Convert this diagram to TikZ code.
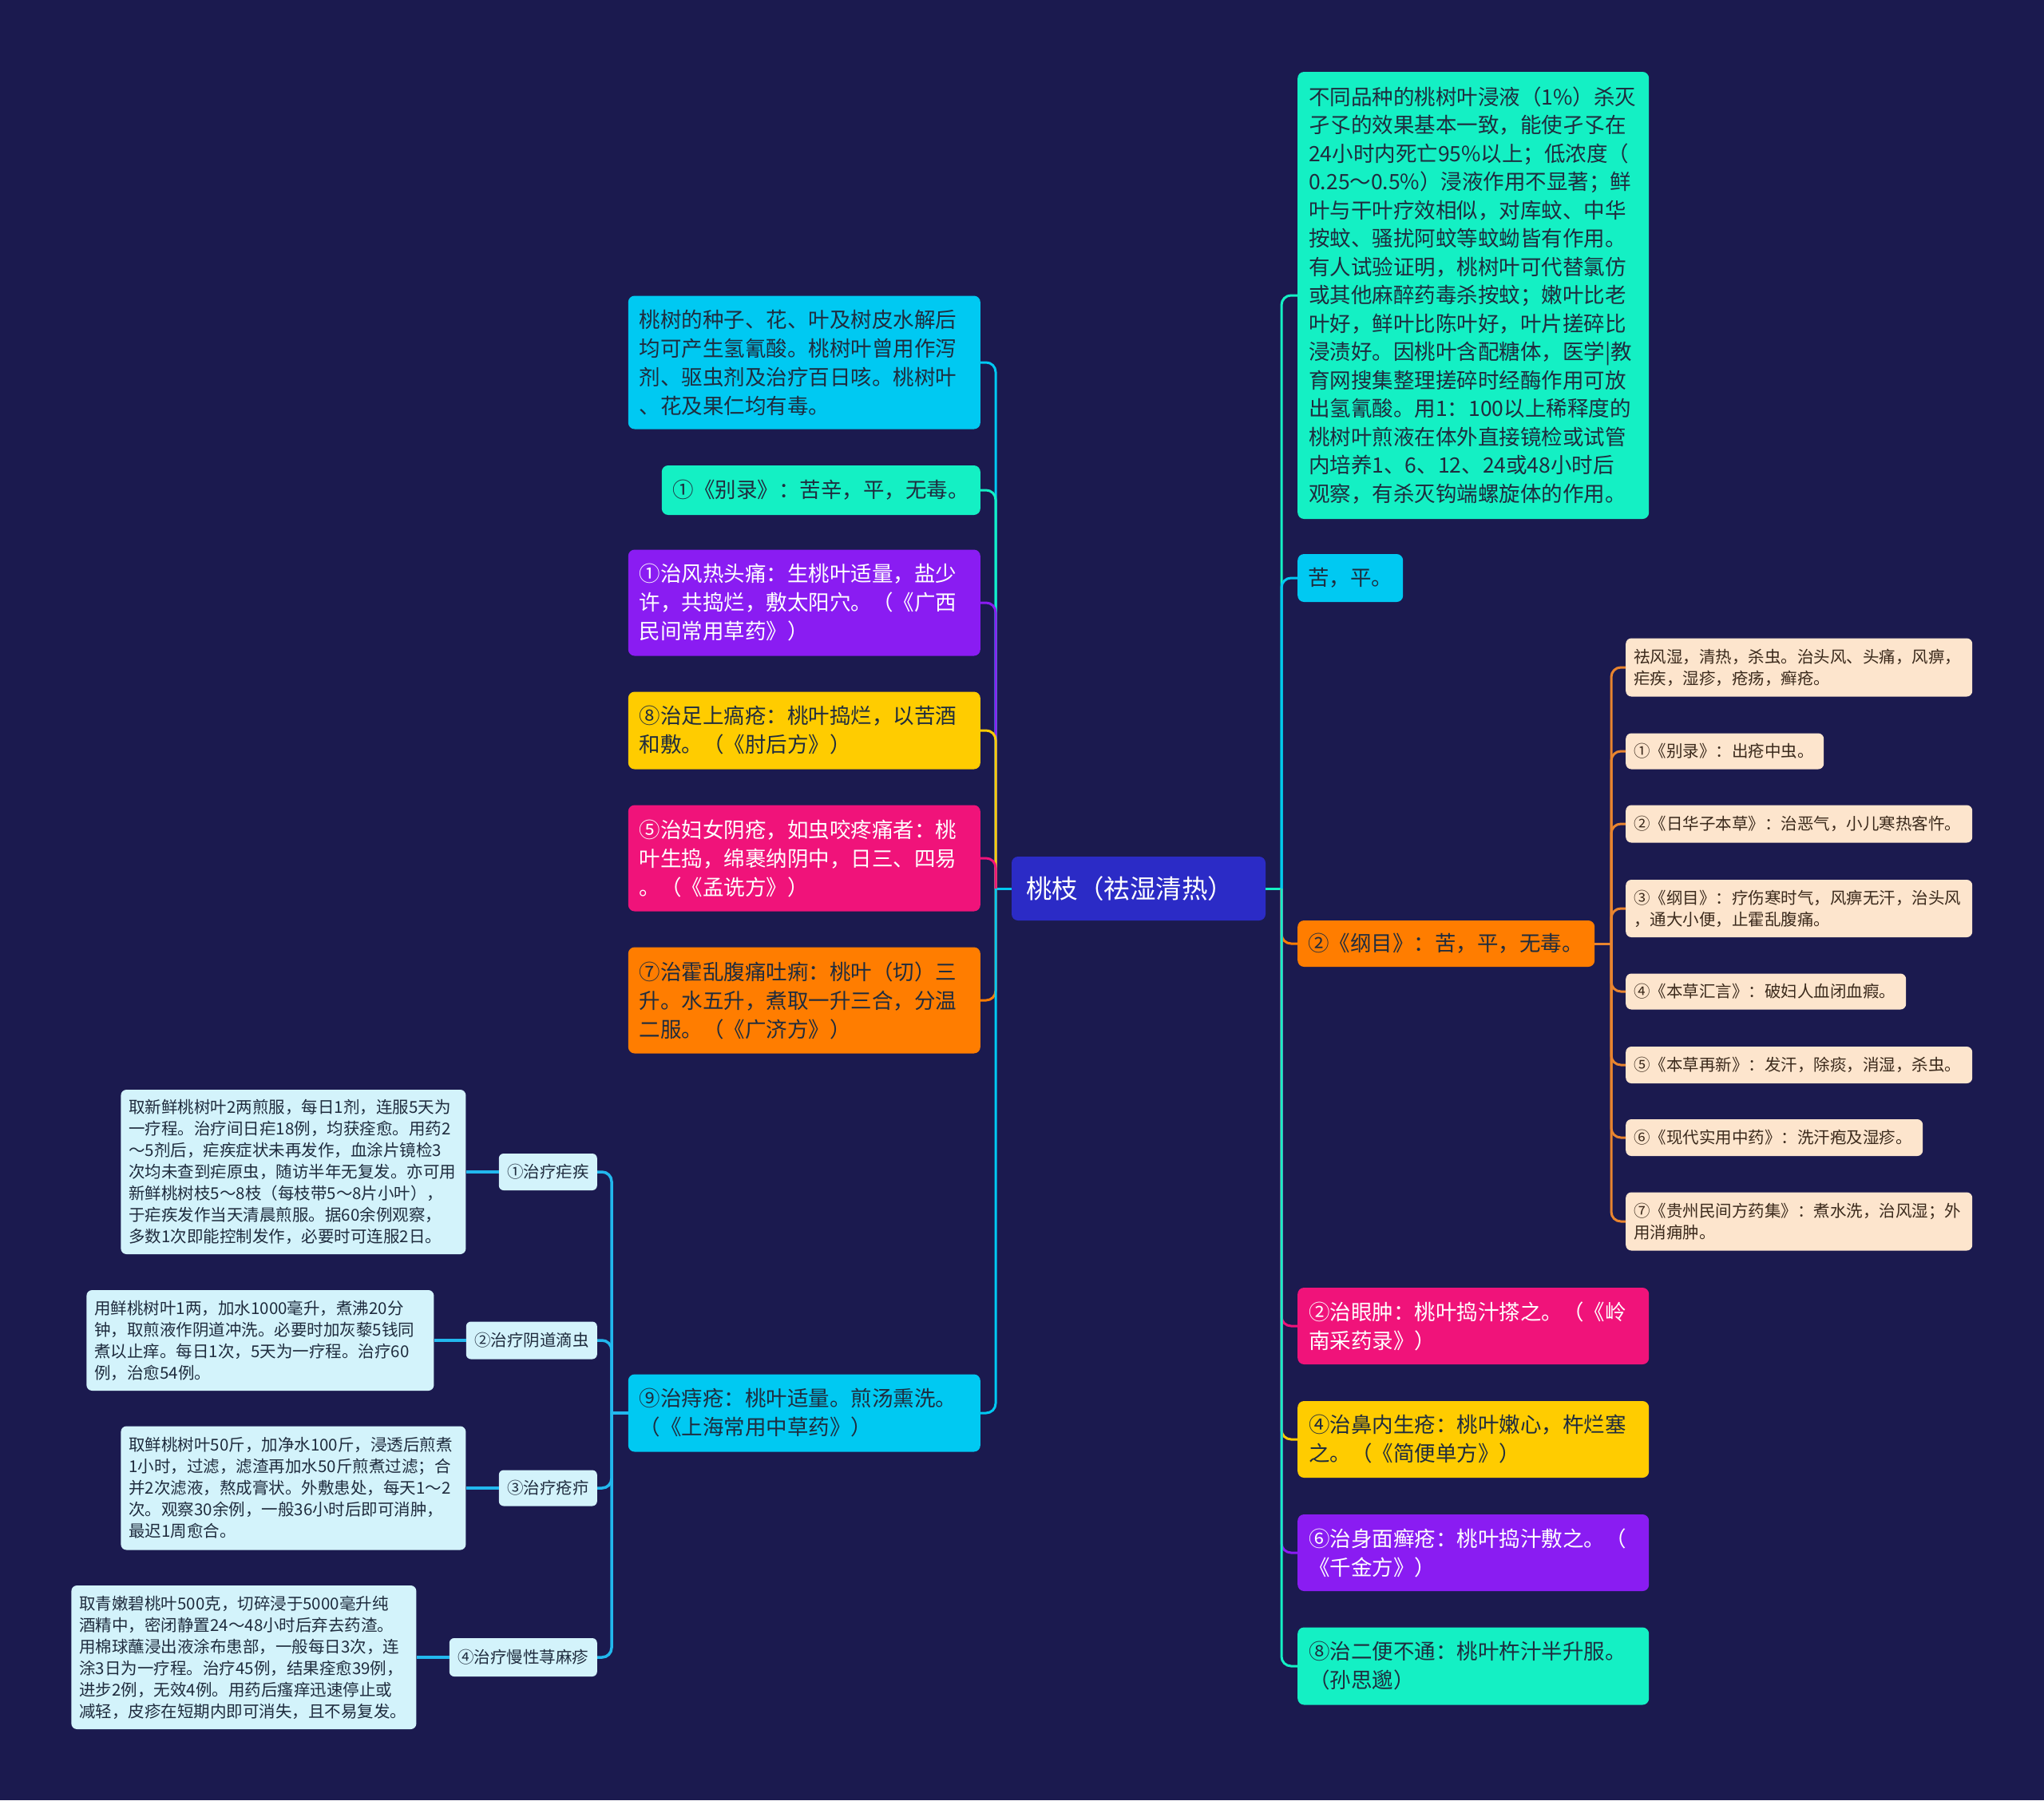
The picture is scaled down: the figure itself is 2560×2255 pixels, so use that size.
\documentclass[tikz,border=0pt]{standalone}
\usepackage{fontspec}
\usepackage{xcolor}
\usepackage{tikz}
\usetikzlibrary{positioning}
\newfontfamily\cjk{Noto Sans CJK SC}
\definecolor{bg}{HTML}{1B1A4F}
\definecolor{royal}{HTML}{2B2BC6}
\definecolor{skyblue}{HTML}{00C9F2}
\definecolor{mint}{HTML}{14F0C4}
\definecolor{grape}{HTML}{8A1CF2}
\definecolor{gold}{HTML}{FFCC00}
\definecolor{rose}{HTML}{F0137A}
\definecolor{tangerine}{HTML}{FF7D00}
\definecolor{peach}{HTML}{FDE5CD}
\definecolor{ice}{HTML}{D3F3FB}
\definecolor{ink}{HTML}{1F2C3E}
\definecolor{bark}{HTML}{3B2A1C}
\definecolor{wire}{HTML}{E8842F}
\definecolor{sky}{HTML}{22B8EE}
\newcommand{\rootfont}{\cjk\fontsize{32.5pt}{40pt}\selectfont}
\newcommand{\lvfont}{\cjk\fontsize{26.5pt}{36pt}\selectfont}
\newcommand{\densefont}{\cjk\fontsize{26.5pt}{35.5pt}\selectfont}
\newcommand{\leaffont}{\cjk\fontsize{20.5pt}{27pt}\selectfont}

\begin{document}
\begin{tikzpicture}[x=1pt, y=-1pt,
  root/.style={fill=royal, rounded corners=8pt, text=white, font=\rootfont,
    align=left, inner xsep=18pt, inner ysep=0pt, text width=282pt, minimum height=80pt},
  branch/.style={fill=#1, rounded corners=8pt, text=ink, font=\lvfont,
    align=left, inner xsep=14pt, inner ysep=0pt},
  herb/.style={fill=peach, rounded corners=7pt, text=bark, font=\leaffont,
    align=left, inner xsep=10pt, inner ysep=0pt},
  topic/.style={fill=ice, rounded corners=6pt, text=ink, font=\leaffont,
    align=center, inner xsep=10pt, inner ysep=0pt},
  leaf/.style={fill=ice, rounded corners=7pt, text=ink, font=\leaffont,
    align=left, inner xsep=10pt, inner ysep=0pt},
  link/.style={line width=3pt, rounded corners=12pt}
]
\useasboundingbox (0,0) rectangle (2560,2255);
\fill[bg] (0,0) rectangle (2560,2255);

\node[root] (root) at (1426,1113) {桃枝（祛湿清热）};

\node[branch=skyblue, anchor=east, text width=413pt, minimum height=167pt] (seed) at (1228,454)
  {桃树的种子、花、叶及树皮水解后\\均可产生氢氰酸。桃树叶曾用作泻\\剂、驱虫剂及治疗百日咳。桃树叶\\、花及果仁均有毒。};
\node[branch=mint, anchor=east, text width=371pt, minimum height=62pt] (bielu) at (1228,614)
  {①《别录》：苦辛，平，无毒。};
\node[branch=grape, text=white, anchor=east, text width=413pt, minimum height=133pt] (fengre) at (1228,755)
  {①治风热头痛：生桃叶适量，盐少\\许，共捣烂，敷太阳穴。（《广西\\民间常用草药》）};
\node[branch=gold, anchor=east, text width=413pt, minimum height=97pt] (zushang) at (1228,915)
  {⑧治足上瘑疮：桃叶捣烂，以苦酒\\和敷。（《肘后方》）};
\node[branch=rose, text=white, anchor=east, text width=413pt, minimum height=133pt] (yinchuang) at (1228,1075)
  {⑤治妇女阴疮，如虫咬疼痛者：桃\\叶生捣，绵裹纳阴中，日三、四易\\。（《孟诜方》）};
\node[branch=tangerine, anchor=east, text width=413pt, minimum height=133pt] (huoluan) at (1228,1253)
  {⑦治霍乱腹痛吐痢：桃叶（切）三\\升。水五升，煮取一升三合，分温\\二服。（《广济方》）};
\node[branch=skyblue, anchor=east, text width=413pt, minimum height=97pt] (zhichuang) at (1228,1770)
  {⑨治痔疮：桃叶适量。煎汤熏洗。\\（《上海常用中草药》）};

\node[branch=mint, font=\densefont, anchor=west, text width=412pt, minimum height=560pt] (wenyou) at (1625,370)
  {不同品种的桃树叶浸液（1\%）杀灭\\孑孓的效果基本一致，能使孑孓在\\24小时内死亡95\%以上；低浓度（\\0.25～0.5\%）浸液作用不显著；鲜\\叶与干叶疗效相似，对库蚊、中华\\按蚊、骚扰阿蚊等蚊蚴皆有作用。\\有人试验证明，桃树叶可代替氯仿\\或其他麻醉药毒杀按蚊；嫩叶比老\\叶好，鲜叶比陈叶好，叶片搓碎比\\浸渍好。因桃叶含配糖体，医学|教\\育网搜集整理搓碎时经酶作用可放\\出氢氰酸。用1：100以上稀释度的\\桃树叶煎液在体外直接镜检或试管\\内培养1、6、12、24或48小时后\\观察，有杀灭钩端螺旋体的作用。};
\node[branch=skyblue, inner xsep=13pt, anchor=west, text width=106pt, minimum height=60pt] (kuping) at (1625,724)
  {苦，平。};
\node[branch=tangerine, inner xsep=13pt, anchor=west, text width=346pt, minimum height=58pt] (gangmu) at (1625,1182)
  {②《纲目》：苦，平，无毒。};
\node[branch=rose, text=white, anchor=west, text width=412pt, minimum height=96pt] (yanzhong) at (1625,1661)
  {②治眼肿：桃叶捣汁搽之。（《岭\\南采药录》）};
\node[branch=gold, anchor=west, text width=412pt, minimum height=96pt] (binei) at (1625,1803)
  {④治鼻内生疮：桃叶嫩心，杵烂塞\\之。（《简便单方》）};
\node[branch=grape, text=white, anchor=west, text width=412pt, minimum height=96pt] (shenmian) at (1625,1945)
  {⑥治身面癣疮：桃叶捣汁敷之。（\\《千金方》）};
\node[branch=mint, anchor=west, text width=412pt, minimum height=97pt] (erbian) at (1625,2087)
  {⑧治二便不通：桃叶杵汁半升服。\\（孙思邈）};

\node[herb, anchor=west, text width=414pt, minimum height=73pt] (gong) at (2036,836)
  {祛风湿，清热，杀虫。治头风、头痛，风痹，\\疟疾，湿疹，疮疡，癣疮。};
\node[herb, anchor=west, text width=228pt, minimum height=45pt] (chong) at (2036,941)
  {①《别录》：出疮中虫。};
\node[herb, anchor=west, text width=414pt, minimum height=47pt] (rihua) at (2036,1032)
  {②《日华子本草》：治恶气，小儿寒热客忤。};
\node[herb, anchor=west, text width=414pt, minimum height=72pt] (shangh) at (2036,1138)
  {③《纲目》：疗伤寒时气，风痹无汗，治头风\\，通大小便，止霍乱腹痛。};
\node[herb, anchor=west, text width=331pt, minimum height=45pt] (huiyan) at (2036,1242)
  {④《本草汇言》：破妇人血闭血瘕。};
\node[herb, anchor=west, text width=414pt, minimum height=46pt] (zaixin) at (2036,1334)
  {⑤《本草再新》：发汗，除痰，消湿，杀虫。};
\node[herb, anchor=west, text width=352pt, minimum height=46pt] (xiandai) at (2036,1425)
  {⑥《现代实用中药》：洗汗疱及湿疹。};
\node[herb, anchor=west, text width=414pt, minimum height=73pt] (guizhou) at (2036,1530)
  {⑦《贵州民间方药集》：煮水洗，治风湿；外\\用消痈肿。};

\node[topic, anchor=east, text width=103pt, minimum height=46pt] (nueji) at (748,1468) {①治疗疟疾};
\node[topic, anchor=east, text width=144pt, minimum height=47pt] (dichong) at (748,1679) {②治疗阴道滴虫};
\node[topic, anchor=east, text width=103pt, minimum height=45pt] (chuangjie) at (748,1864) {③治疗疮疖};
\node[topic, anchor=east, text width=165pt, minimum height=48pt] (xunmazhen) at (748,2076) {④治疗慢性荨麻疹};

\node[leaf, left=41pt of nueji, text width=412pt, minimum height=206pt] (nuejitxt)
  {取新鲜桃树叶2两煎服，每日1剂，连服5天为\\一疗程。治疗间日疟18例，均获痊愈。用药2\\～5剂后，疟疾症状未再发作，血涂片镜检3\\次均未查到疟原虫，随访半年无复发。亦可用\\新鲜桃树枝5～8枝（每枝带5～8片小叶），\\于疟疾发作当天清晨煎服。据60余例观察，\\多数1次即能控制发作，必要时可连服2日。};
\node[leaf, left=40pt of dichong, text width=415pt, minimum height=126pt] (dichongtxt)
  {用鲜桃树叶1两，加水1000毫升，煮沸20分\\钟，取煎液作阴道冲洗。必要时加灰藜5钱同\\煮以止痒。每日1次，5天为一疗程。治疗60\\例，治愈54例。};
\node[leaf, left=41pt of chuangjie, text width=412pt, minimum height=155pt] (chuangjietxt)
  {取鲜桃树叶50斤，加净水100斤，浸透后煎煮\\1小时，过滤，滤渣再加水50斤煎煮过滤；合\\并2次滤液，熬成膏状。外敷患处，每天1～2\\次。观察30余例，一般36小时后即可消肿，\\最迟1周愈合。};
\node[leaf, left=41pt of xunmazhen, text width=412pt, minimum height=180pt] (xunmazhentxt)
  {取青嫩碧桃叶500克，切碎浸于5000毫升纯\\酒精中，密闭静置24～48小时后弃去药渣。\\用棉球蘸浸出液涂布患部，一般每日3次，连\\涂3日为一疗程。治疗45例，结果痊愈39例，\\进步2例，无效4例。用药后瘙痒迅速停止或\\减轻，皮疹在短期内即可消失，且不易复发。};

\coordinate (hubL) at (1247,1113);
\coordinate (hubR) at (1605,1113);
\coordinate (hubG) at (2018,1182);
\coordinate (hubZ) at (766,1770);

\draw[link, skyblue] (root.west) -- (hubL);
\foreach \n/\c in {seed/skyblue, bielu/mint, fengre/grape, zushang/gold,
    yinchuang/rose, huoluan/tangerine, zhichuang/skyblue}
  \draw[link, \c] (hubL) |- (\n.east);
\draw[link, mint] (root.east) -- (hubR);
\foreach \n/\c in {wenyou/mint, kuping/skyblue, gangmu/tangerine, yanzhong/rose,
    binei/gold, shenmian/grape, erbian/mint}
  \draw[link, \c] (hubR) |- (\n.west);
\draw[link, wire] (gangmu.east) -- (hubG);
\foreach \n in {gong, chong, rihua, shangh, huiyan, zaixin, xiandai, guizhou}
  \draw[link, wire] (hubG) |- (\n.west);
\draw[link, sky, line width=3.5pt] (zhichuang.west) -- (hubZ);
\foreach \n in {nueji, dichong, chuangjie, xunmazhen} {
  \draw[link, sky, line width=3.5pt] (hubZ) |- (\n.east);
  \draw[link, sky, line width=3.5pt] (\n.west) -- (\n txt.east);
}
\end{tikzpicture}
\end{document}
